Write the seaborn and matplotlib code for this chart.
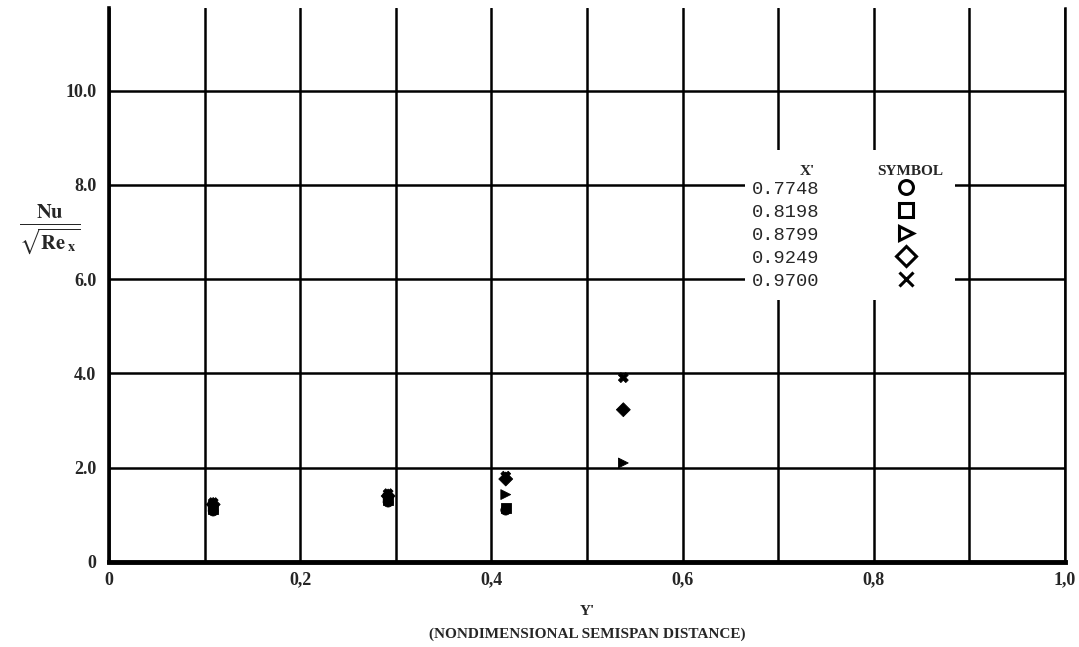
import matplotlib.pyplot as plt
from matplotlib.lines import Line2D
from matplotlib.patches import Rectangle
import numpy as np
import pandas as pd
import seaborn as sns

# X' stations and their plot symbols
x_prime = ["0.7748", "0.8198", "0.8799", "0.9249", "0.9700"]
symbols = ["o", "s", ">", "D", "X"]
key_symbols = ["o", "s", ">", "D", "x"]

# Y' (semispan) stations, Nu/sqrt(Re_x) per X' (None = no point)
y_prime = [0.109, 0.292, 0.415, 0.538]
nu_7748 = [1.08, 1.27, 1.10, None]
nu_8198 = [1.13, 1.31, 1.15, None]
nu_8799 = [1.18, 1.36, 1.43, 2.10]
nu_9249 = [1.22, 1.40, 1.76, 3.23]
nu_9700 = [1.26, 1.45, 1.82, 3.91]

x_tick_vals = [0, 0.2, 0.4, 0.6, 0.8, 1.0]
x_tick_labels = ["0", "0,2", "0,4", "0,6", "0,8", "1,0"]
y_tick_vals = [0, 2, 4, 6, 8, 10]
y_tick_labels = ["0", "2.0", "4.0", "6.0", "8.0", "10.0"]

rows = []
for xp, vals in zip(x_prime, [nu_7748, nu_8198, nu_8799, nu_9249, nu_9700]):
    for yp, v in zip(y_prime, vals):
        if v is not None:
            rows.append({"Y'": yp, "Nu": v, "X'": xp})
df = pd.DataFrame(rows)

sns.set_style("white")
plt.rcParams["font.family"] = ["Liberation Serif", "DejaVu Serif"]
plt.rcParams["mathtext.fontset"] = "stix"

fig = plt.figure(figsize=(10.79, 6.47), dpi=100)
ax = fig.add_axes([109 / 1079, 85 / 647, 956 / 1079, 554 / 647])

sns.scatterplot(data=df, x="Y'", y="Nu", hue="X'", style="X'",
                markers=dict(zip(x_prime, symbols)), palette=["black"] * 5,
                s=50, edgecolor="black", linewidth=0.6, legend=False,
                ax=ax, zorder=3)

ax.set_xlim(0, 1)
ax.set_ylim(0, 11.75)
ax.set_xticks(x_tick_vals)
ax.set_xticklabels(x_tick_labels)
ax.set_xticks(np.arange(0.1, 1.0, 0.2), minor=True)
ax.set_yticks(y_tick_vals)
ax.set_yticklabels(y_tick_labels)
ax.set_yticks(np.arange(1, 12, 2), minor=True)

ax.grid(True, which="both", axis="x", color="black", lw=1.8)
ax.grid(True, which="major", axis="y", color="black", lw=1.8)
ax.tick_params(axis="x", which="both", length=0, pad=7, labelsize=13)
ax.tick_params(axis="y", which="major", length=0, pad=9, labelsize=13)
ax.tick_params(axis="y", which="minor", length=14, width=2,
               direction="in", color="black")
for lab in ax.get_xticklabels() + ax.get_yticklabels():
    lab.set_fontweight("bold")

ax.spines["top"].set_visible(False)
ax.spines["left"].set_linewidth(2.6)
ax.spines["bottom"].set_linewidth(3.5)
ax.spines["right"].set_linewidth(1.8)
for s in ["left", "bottom", "right"]:
    ax.spines[s].set_color("black")

# white panel behind the symbol key
ax.add_patch(Rectangle((0.665, 0.473), 0.22, 0.271, transform=ax.transAxes,
                       facecolor="white", edgecolor="none", zorder=2.5))
ax.text(0.731, 0.704, "X'", transform=ax.transAxes, ha="center",
        va="center", fontsize=11, fontweight="bold", zorder=4)
ax.text(0.838, 0.704, "SYMBOL", transform=ax.transAxes, ha="center",
        va="center", fontsize=11, fontweight="bold", zorder=4)

handles = [Line2D([], [], ls="none", marker=m, ms=10, mfc="none",
                  mec="black", mew=2.2) for m in key_symbols]
leg = ax.legend(handles, x_prime, loc="upper left",
                bbox_to_anchor=(0.6726, 0.688), borderaxespad=0,
                borderpad=0, frameon=False, markerfirst=False,
                handlelength=2.0, handletextpad=3.6, labelspacing=0.31,
                prop={"family": "Liberation Mono", "size": 13.5})
leg.set_zorder(4)

ax.set_xlabel("Y'\n(NONDIMENSIONAL SEMISPAN DISTANCE)", fontsize=11,
              fontweight="bold", linespacing=1.9, labelpad=12)
ax.set_ylabel(r"$\frac{\mathbf{Nu}}{\sqrt{\mathbf{Re}_{\ \mathbf{x}}}}$",
              rotation=0, fontsize=21, va="center", ha="center")
ax.yaxis.set_label_coords(-0.062, 0.6)

fig.savefig("out.png", dpi=100)
